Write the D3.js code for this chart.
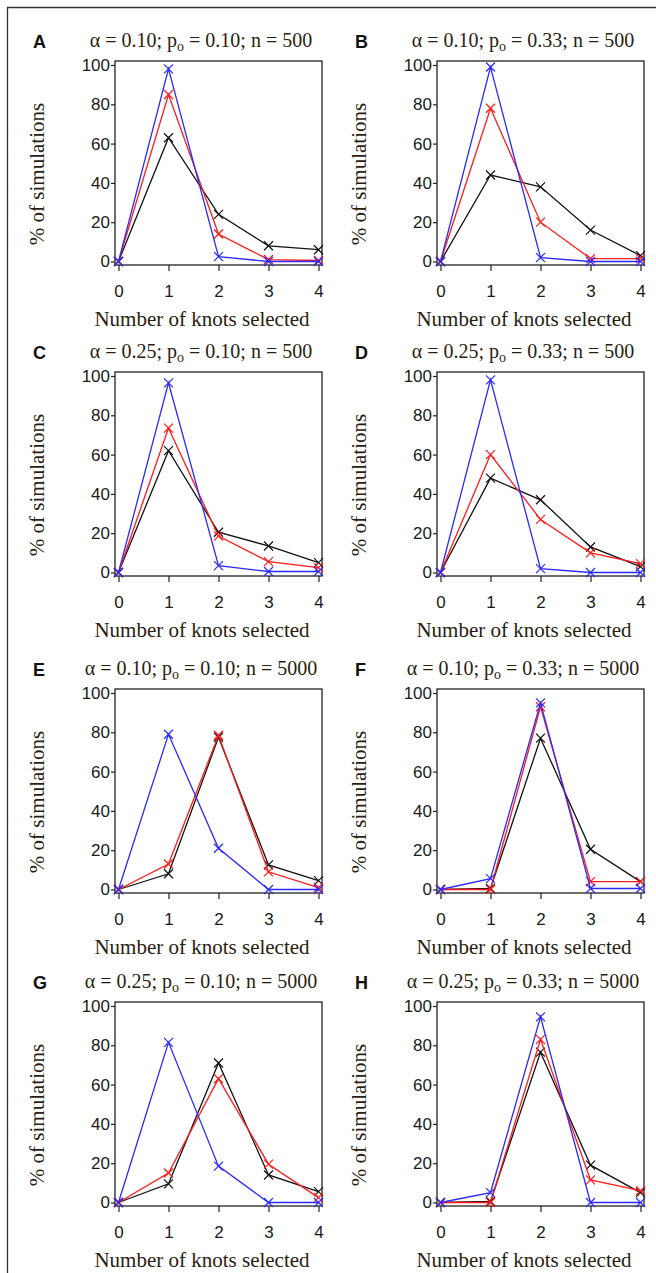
<!DOCTYPE html>
<html>
<head>
<meta charset="utf-8">
<script src="https://cdn.jsdelivr.net/npm/d3@7"></script>
<style>
  body { margin: 0; background: #fff; }
  .axis text { font-family: "Liberation Sans", Arial, sans-serif; font-size: 17px; fill: #1a1a1a; }
  .axis line { stroke: #222; stroke-width: 1.2; }
  .serif { font-family: "Liberation Serif", "Times New Roman", serif; fill: #2a1d10; }
</style>
</head>
<body>
<div id="chart"></div>
<script>
// x categories and y ticks
const knots = [0, 1, 2, 3, 4];
const yTicks = [0, 20, 40, 60, 80, 100];

// panel labels and parameters
const panelLetters = ["A", "B", "C", "D", "E", "F", "G", "H"];
const alphas = ["0.10", "0.10", "0.25", "0.25", "0.10", "0.10", "0.25", "0.25"];
const p0s = ["0.10", "0.33", "0.10", "0.33", "0.10", "0.33", "0.10", "0.33"];
const ns = ["500", "500", "500", "500", "5000", "5000", "5000", "5000"];

// % of simulations per panel
const blackVals = [
  [0, 63, 24, 8, 6],
  [0, 44, 38, 16, 3],
  [0, 62, 20.5, 13.5, 5],
  [0, 48, 37, 13, 3],
  [0, 8, 77.5, 12.5, 4.5],
  [0, 0.5, 77, 20.5, 4],
  [0, 9.5, 71, 14, 5.5],
  [0, 0.5, 76.5, 19, 5]
];
const redVals = [
  [0, 85, 14, 1, 0.5],
  [0, 78, 20, 1.5, 1.5],
  [0, 73.5, 18.5, 5.5, 2.5],
  [0, 60, 27, 10, 4.5],
  [0, 13, 78.5, 9, 1],
  [0, 0, 93, 4, 4],
  [0, 15, 63, 19.5, 2.5],
  [0, 0, 83, 11.5, 6]
];
const blueVals = [
  [0, 98, 2.5, 0, 0],
  [0, 99, 2, 0, 0],
  [0, 96.5, 3.5, 0.5, 0.5],
  [0, 98, 2, 0, 0],
  [0, 79, 21, 0, 0],
  [0, 5.5, 95, 0.5, 0.5],
  [0, 81.5, 18.5, 0, 0],
  [0, 5, 94.5, 0, 0]
];

const width = 656, height = 1273;
const colLeft = [115, 437];
const rowTop = [61, 372, 689, 1002];
const boxW = 207, boxH = 204;

const svg = d3.select("#chart").append("svg")
  .attr("width", width)
  .attr("height", height);

// outer frame (top and left edges only visible)
svg.append("path")
  .attr("d", "M7.5," + height + "V7.5H" + width)
  .attr("fill", "none")
  .attr("stroke", "#333")
  .attr("stroke-width", 1.3);

const series = [
  {vals: blackVals, color: "#111"},
  {vals: redVals, color: "#ff1a1a"},
  {vals: blueVals, color: "#2a2aff"}
];

panelLetters.forEach(function(letter, i) {
  const L = colLeft[i % 2], T = rowTop[Math.floor(i / 2)];
  const R = L + boxW, B = T + boxH;

  const x = d3.scaleLinear().domain([0, 4]).range([L + 3.5, R - 3.5]);
  const y = d3.scaleLinear().domain([0, 100]).range([B - 3.5, T + 4]);

  const g = svg.append("g");

  // y axis
  g.append("g")
    .attr("class", "axis")
    .attr("transform", "translate(" + L + ",0)")
    .call(d3.axisLeft(y).tickValues(yTicks).tickSize(4).tickPadding(1))
    .call(s => s.select(".domain").remove());

  // x axis
  g.append("g")
    .attr("class", "axis")
    .attr("transform", "translate(0," + B + ")")
    .call(d3.axisBottom(x).tickValues(knots).tickSize(6).tickPadding(14).tickFormat(d3.format("d")))
    .call(s => s.select(".domain").remove());

  // plot box
  g.append("rect")
    .attr("x", L).attr("y", T)
    .attr("width", boxW).attr("height", boxH)
    .attr("fill", "none")
    .attr("stroke", "#222")
    .attr("stroke-width", 1.3);

  const line = d3.line()
    .x((d, k) => x(knots[k]))
    .y(d => y(d));

  series.forEach(function(s) {
    const vals = s.vals[i];
    g.append("path")
      .datum(vals)
      .attr("d", line)
      .attr("fill", "none")
      .attr("stroke", s.color)
      .attr("stroke-width", 1.3);

    g.selectAll(null)
      .data(vals)
      .enter()
      .append("path")
      .attr("transform", (d, k) => "translate(" + x(knots[k]) + "," + y(d) + ")")
      .attr("d", "M-4.5,-4.5L4.5,4.5M-4.5,4.5L4.5,-4.5")
      .attr("stroke", s.color)
      .attr("stroke-width", 1.2);
  });

  // panel letter
  g.append("text")
    .attr("x", L - 82)
    .attr("y", T - 13)
    .attr("font-family", "Liberation Sans, Arial, sans-serif")
    .attr("font-weight", "bold")
    .attr("font-size", 18)
    .attr("fill", "#111")
    .text(letter);

  // title
  const title = g.append("text")
    .attr("class", "serif")
    .attr("x", L + 86)
    .attr("y", T - 14)
    .attr("text-anchor", "middle")
    .attr("font-size", 20);
  title.append("tspan").text("\u03b1 = " + alphas[i] + "; p");
  title.append("tspan").attr("font-size", 14).attr("dy", 4).text("o");
  title.append("tspan").attr("dy", -4).text(" = " + p0s[i] + "; n = " + ns[i]);

  // y label
  g.append("text")
    .attr("class", "serif")
    .attr("transform", "translate(" + (L - 71) + "," + (T + 113) + ") rotate(-90)")
    .attr("text-anchor", "middle")
    .attr("font-size", 21)
    .text("% of simulations");

  // x label
  g.append("text")
    .attr("class", "serif")
    .attr("x", L + 87)
    .attr("y", B + 61)
    .attr("text-anchor", "middle")
    .attr("font-size", 21)
    .text("Number of knots selected");
});
</script>
</body>
</html>
